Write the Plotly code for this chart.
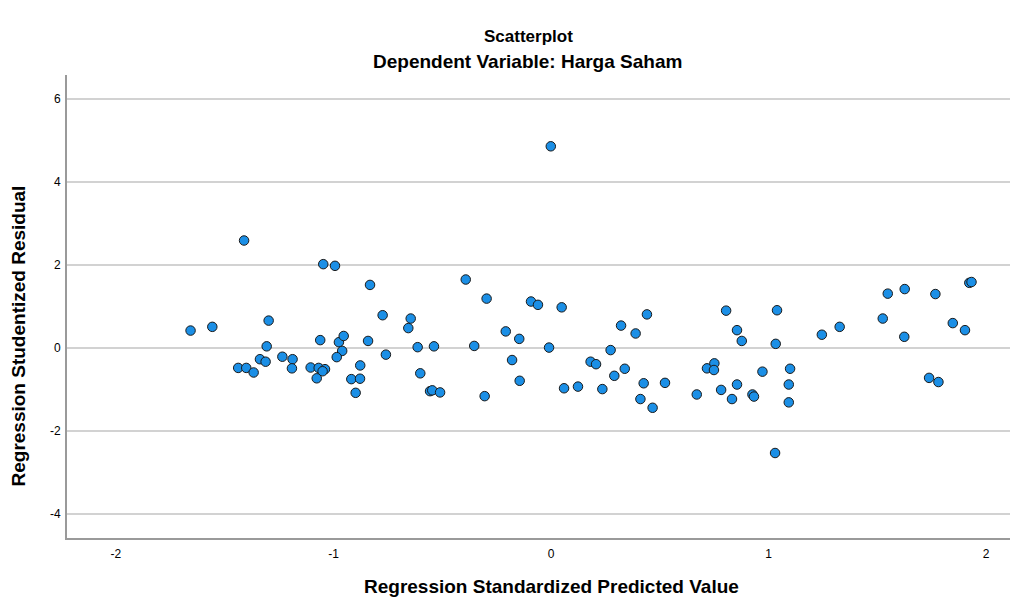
import plotly.graph_objects as go

# Regression Standardized Predicted Value
pred_x = [-1.657, -1.557, -1.411, -1.298, -1.307, -1.338, -1.312, -1.438, -1.401, -1.367,
          -1.235, -1.188, -1.191, -1.105, -1.068, -1.039, -1.050, -1.077, -1.061, -1.047,
          -0.993, -0.975, -0.953, -0.960, -0.985, -0.877, -0.918, -0.878, -0.898, -0.841,
          -0.832, -0.774, -0.759, -0.645, -0.656, -0.613, -0.538, -0.601, -0.556, -0.546,
          -0.510, -0.392, -0.353, -0.296, -0.305, -0.208, -0.146, -0.179, -0.144, -0.092,
          -0.060, -0.001, -0.009, 0.049, 0.060, 0.124, 0.182, 0.207, 0.236, 0.274,
          0.291, 0.322, 0.339, 0.389, 0.411, 0.426, 0.441, 0.467, 0.524, 0.670,
          0.717, 0.751, 0.749, 0.782, 0.805, 0.832, 0.855, 0.855, 0.877, 0.926,
          0.933, 0.972, 1.030, 1.033, 1.039, 1.093, 1.093, 1.099, 1.245, 1.327,
          1.525, 1.548, 1.624, 1.626, 1.738, 1.767, 1.781, 1.847, 1.903, 1.923, 1.933]

# Regression Studentized Residual
resid_y = [0.42, 0.51, 2.59, 0.66, 0.04, -0.27, -0.33, -0.48, -0.48, -0.59,
           -0.21, -0.27, -0.49, -0.47, -0.48, -0.51, -0.56, -0.73, 0.19, 2.02,
           1.98, 0.14, 0.29, -0.07, -0.22, -0.42, -0.75, -0.74, -1.08, 0.17,
           1.52, 0.79, -0.16, 0.71, 0.48, 0.02, 0.04, -0.61, -1.04, -1.02,
           -1.07, 1.65, 0.05, 1.19, -1.16, 0.40, 0.22, -0.29, -0.79, 1.12,
           1.04, 4.86, 0.01, 0.98, -0.97, -0.93, -0.33, -0.39, -0.99, -0.05,
           -0.67, 0.54, -0.50, 0.35, -1.23, -0.85, 0.81, -1.44, -0.84, -1.12,
           -0.49, -0.37, -0.53, -1.01, 0.90, -1.23, 0.43, -0.88, 0.17, -1.12,
           -1.17, -0.57, -2.53, 0.10, 0.91, -0.88, -1.31, -0.50, 0.32, 0.51,
           0.71, 1.31, 0.27, 1.42, -0.72, 1.30, -0.82, 0.60, 0.43, 1.57, 1.59]

x_ticks = [-2, -1, 0, 1, 2]
y_ticks = [-4, -2, 0, 2, 4, 6]

FONT = "Liberation Sans, Arial, sans-serif"
OFF = 8  # page body margin
W, H = 1015, 592
ML, MR, MT, MB = 59, 13, 67, 62
plot_w = W - ML - MR
plot_h = H - MT - MB


def px_x(screen_x):
    return (screen_x - OFF - ML) / plot_w


def px_y(screen_y):
    return (H - MB - (screen_y - OFF)) / plot_h


fig = go.Figure()
fig.add_trace(go.Scatter(
    x=pred_x, y=resid_y, mode="markers",
    marker=dict(size=9.5, color="#1b8fe6", line=dict(color="#1a1a1a", width=1)),
    showlegend=False, hoverinfo="x+y",
))

fig.update_layout(
    width=W, height=H,
    margin=dict(l=ML, r=MR, t=MT, b=MB),
    paper_bgcolor="white", plot_bgcolor="white",
    font=dict(family=FONT, color="#000000"),
    annotations=[
        dict(text="<b>Scatterplot</b>", x=px_x(528), xref="paper", xanchor="center",
             y=px_y(36), yref="paper", yanchor="middle", showarrow=False,
             font=dict(size=17, family=FONT)),
        dict(text="<b>Dependent Variable: Harga Saham</b>", x=px_x(527), xref="paper",
             xanchor="center", y=px_y(62), yref="paper", yanchor="middle", showarrow=False,
             font=dict(size=19, family=FONT)),
        dict(text="<b>Regression Standardized Predicted Value</b>", x=px_x(551),
             xref="paper", xanchor="center", y=px_y(586), yref="paper",
             yanchor="middle", showarrow=False, font=dict(size=19, family=FONT)),
        dict(text="<b>Regression Studentized Residual</b>", x=px_x(18),
             xref="paper", xanchor="center", y=px_y(184), yref="paper",
             yanchor="top", textangle=-90, showarrow=False,
             font=dict(size=19, family=FONT)),
    ],
)

fig.update_xaxes(
    range=[-2.225, 2.110], tickvals=x_ticks, ticktext=[str(v) for v in x_ticks],
    showgrid=False, zeroline=False, showline=True, linecolor="#9a9a9a", linewidth=2,
    ticks="", tickfont=dict(size=12, family=FONT, color="#000"),
    ticklabelstandoff=4, automargin=False,
)
fig.update_yaxes(
    range=[-4.578, 6.578], tickvals=y_ticks, ticktext=[str(v) for v in y_ticks],
    showgrid=True, gridcolor="#d2d2d2", gridwidth=1.5, zeroline=False,
    showline=True, linecolor="#9a9a9a", linewidth=2,
    ticks="", tickfont=dict(size=12, family=FONT, color="#000"),
    ticklabelstandoff=2, automargin=False,
)

fig.write_html("out.html")
